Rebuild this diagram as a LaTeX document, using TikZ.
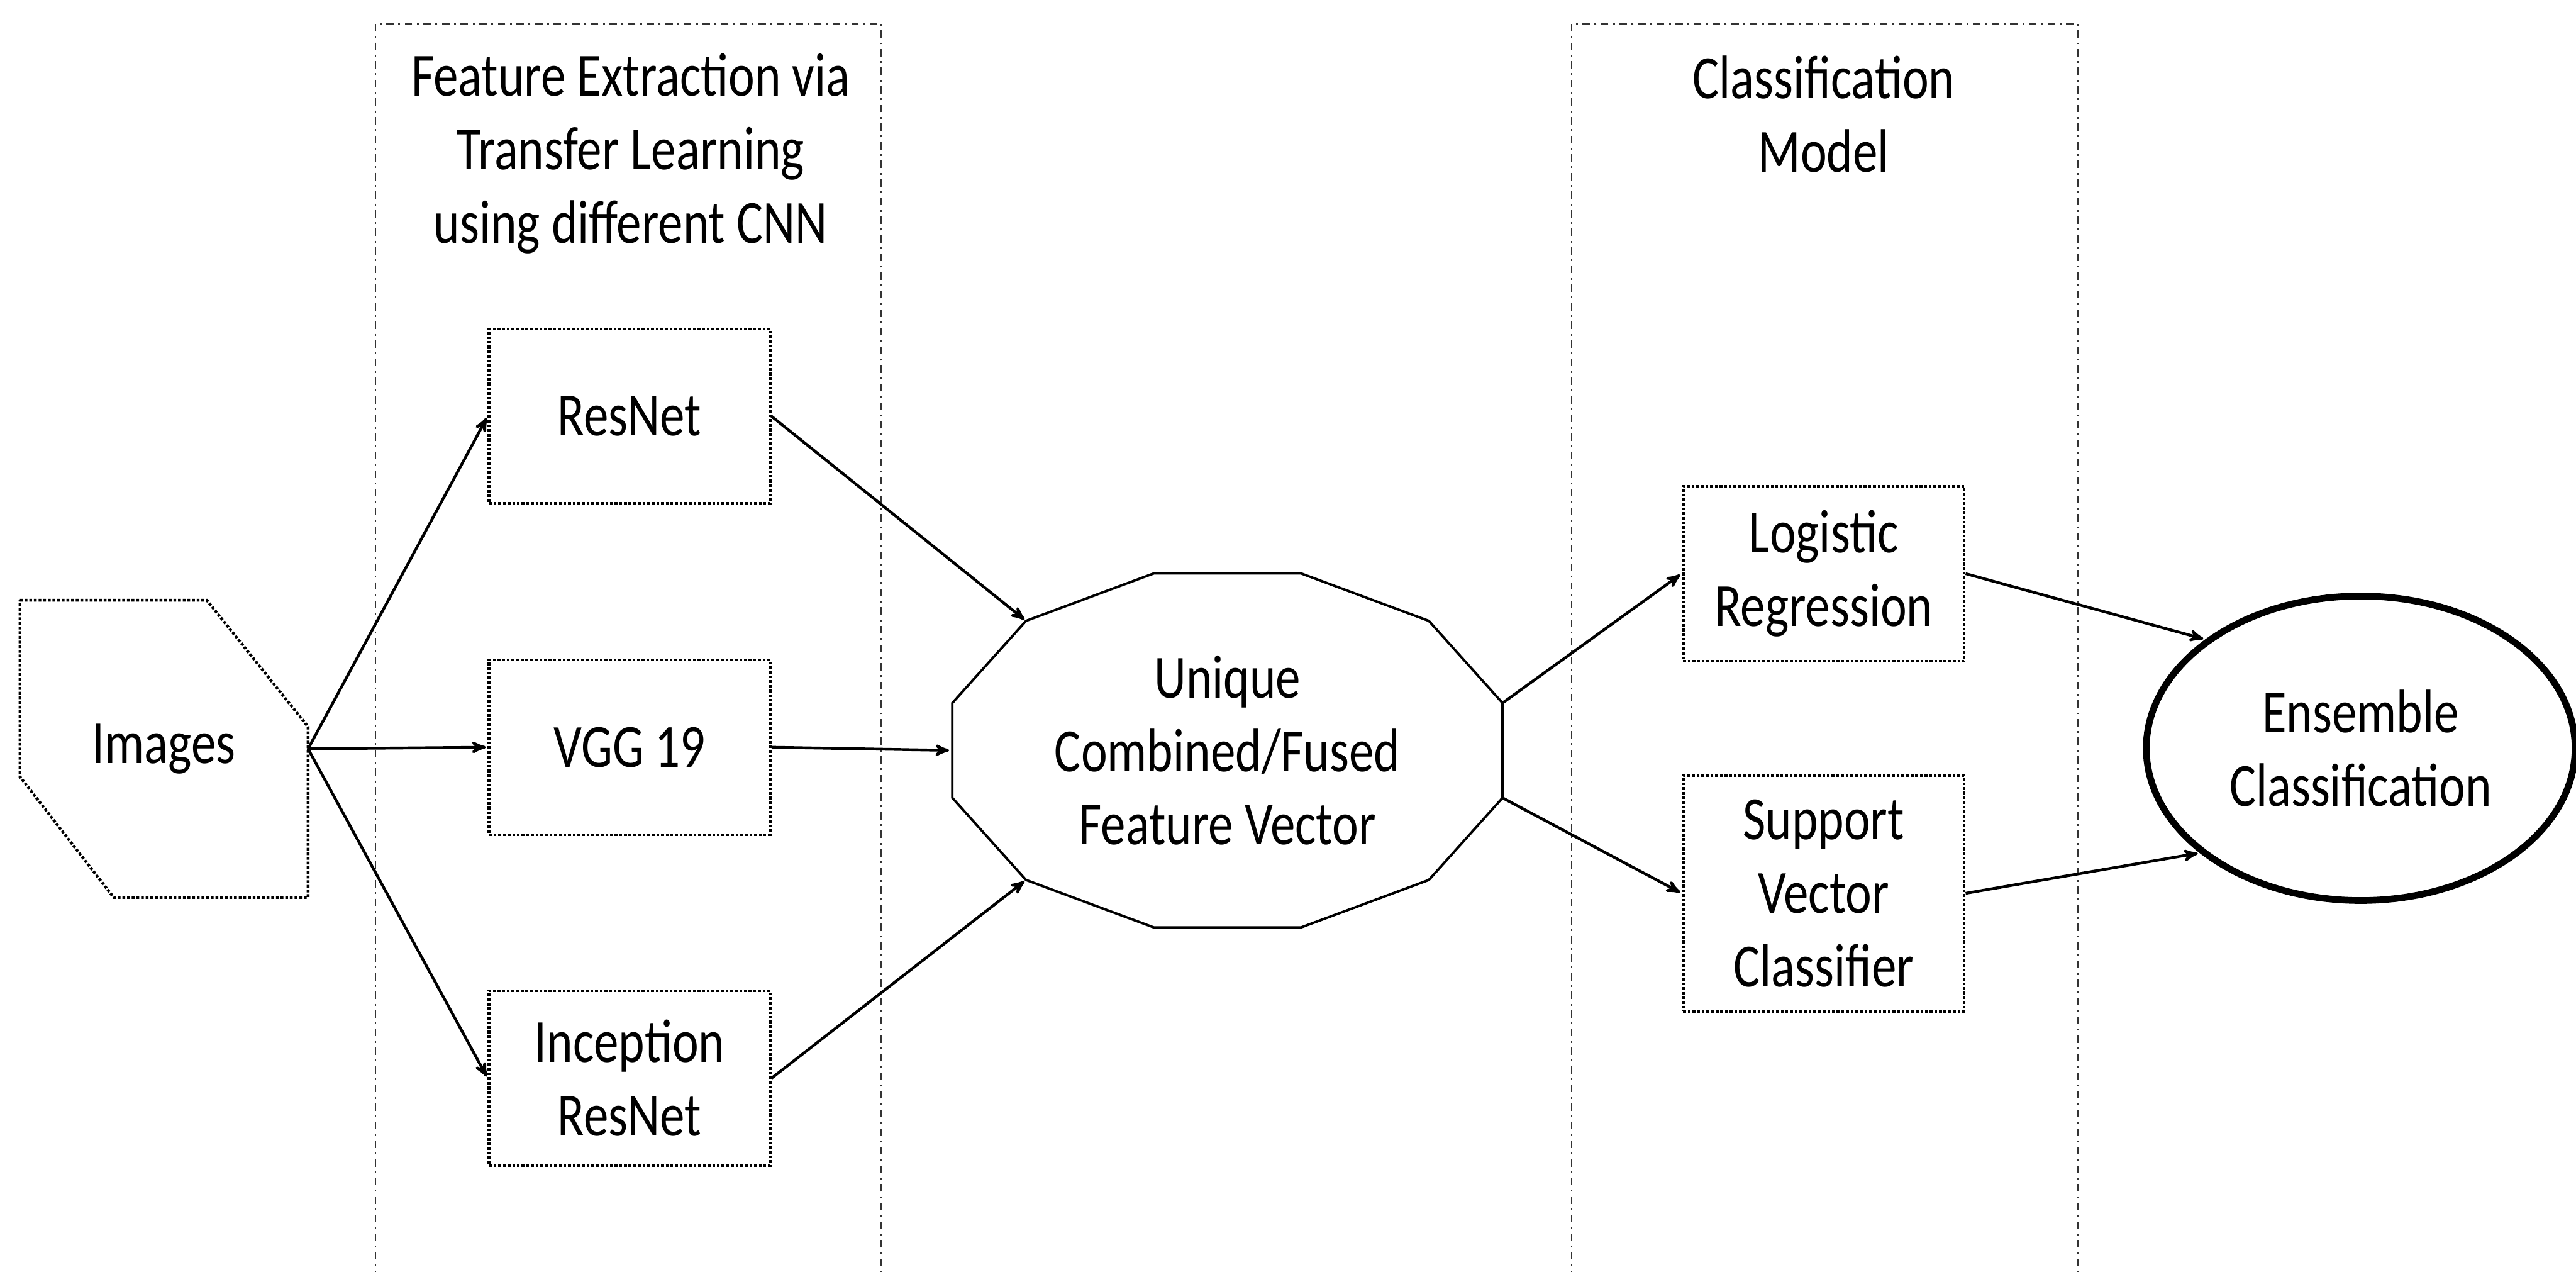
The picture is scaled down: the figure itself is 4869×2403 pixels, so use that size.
\documentclass[tikz,border=0pt]{standalone}
\usepackage{fontspec}
\setmainfont{Carlito}[FakeStretch=0.81]
\usepackage{tikz}
\usetikzlibrary{arrows, shapes.geometric, calc}

\begin{document}
\begin{tikzpicture}[->,>=stealth',shorten >=1pt,auto,x=0.01cm,y=-0.01cm,
	line width=1.5pt,node distance=6.25cm,font=\fontsize{33}{39.5}\selectfont]
	\tikzstyle{groupbox} = [rectangle,draw=black!80,line width=0.9pt,dash pattern=on 4pt off 2.5pt on 1pt off 2.5pt,minimum width=9.56cm,minimum height=24.1cm]
	\tikzstyle{netbox} = [rectangle,draw,densely dotted,line width=1.5pt,align=center,minimum width=5.31cm,minimum height=3.3cm]
	\tikzstyle{titletext} = [align=center]
	\useasboundingbox (0,0) rectangle (4869,2403);

	% dashed frames of the two stages
	\node[groupbox]		(fegroup) at (1188,1250)	{};
	\node[groupbox]		(clgroup) at (3449,1250)	{};
	\node[titletext]	(fetitle) at (1192,290)		{Feature Extraction via\\Transfer Learning\\using different CNN};
	\node[titletext]	(cltitle) at (3447,216)		{Classification\\Model};

	% input and feature extractors
	\node[inner sep=0,minimum width=5.39cm,minimum height=5.56cm]	(img) at (310,1415)	{Images};
	\draw[-,densely dotted,line width=1.5pt] (img.north west) -- ([xshift=3.53cm]img.north west) -- ([yshift=-2.39cm]img.north east) -- (img.south east) -- ([xshift=1.77cm]img.south west) -- ([yshift=2.28cm]img.south west) -- cycle;
	\node[netbox]	(vgg)		at (1190,1412)		{VGG 19};
	\node[netbox]	(resnet)	[above of=vgg]		{ResNet};
	\node[netbox]	(incep)		[below of=vgg]		{Inception\\ResNet};

	% fused feature vector, a 12 sided polygon
	\node[inner sep=0,minimum width=10.39cm,minimum height=6.68cm,align=center]	(fuse) at (2320,1418)	{Unique\\Combined/Fused\\Feature Vector};
	\foreach \a in {15,45,...,345}
		\coordinate (fuse-\a) at ($(fuse.center)+(\a:5.38cm and 3.46cm)$);
	\draw[-,line width=1.3pt] (fuse-15) -- (fuse-45) -- (fuse-75) -- (fuse-105) -- (fuse-135) -- (fuse-165) -- (fuse-195) -- (fuse-225) -- (fuse-255) -- (fuse-285) -- (fuse-315) -- (fuse-345) -- cycle;

	% classifiers and ensemble
	\node[netbox]						(logreg)	at (3447,1084)	{Logistic\\Regression};
	\node[netbox,minimum height=4.45cm]	(svc)		at (3447,1688)	{Support\\Vector\\Classifier};
	\node[ellipse,draw,line width=3.6pt,minimum width=8.1cm,minimum height=5.75cm,align=center,inner sep=0]	(ens) at (4462,1414)	{Ensemble\\Classification};

	\path	(img.east)		edge (resnet.west)
							edge (vgg.west)
							edge (incep.west)
			(resnet.east)	edge (fuse-135)
			(vgg.east)		edge (fuse.west)
			(incep.east)	edge (fuse-225)
			(fuse-15)		edge (logreg.west)
			(fuse-345)		edge (svc.west)
			(logreg.east)	edge (ens.145)
			(svc.east)		edge (ens.213);
\end{tikzpicture}
\end{document}
